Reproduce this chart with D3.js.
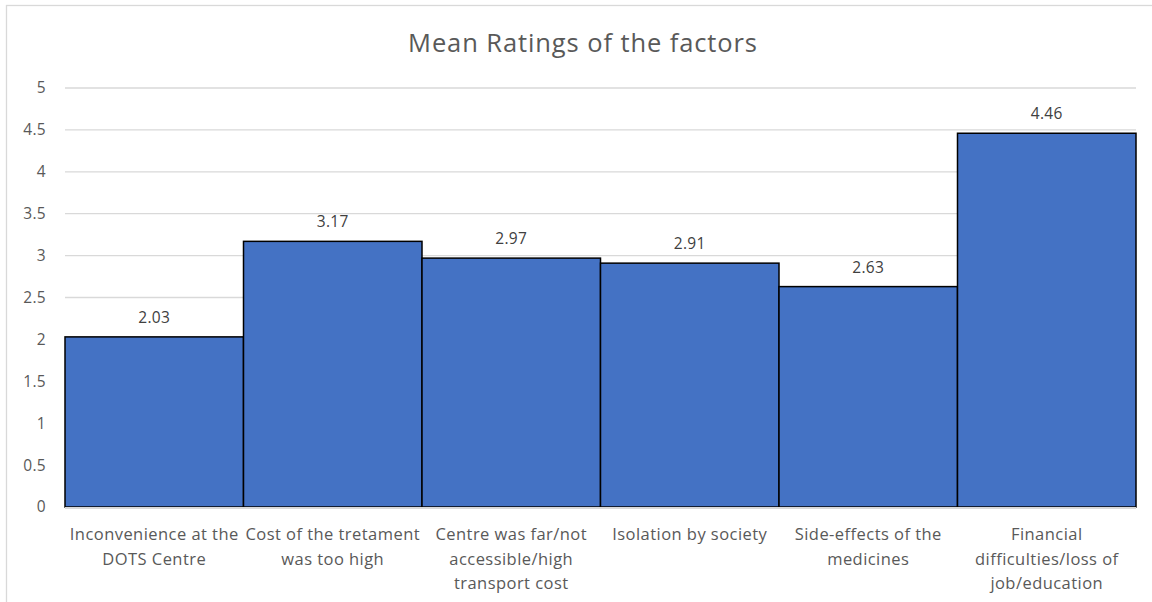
<!DOCTYPE html>
<html><head><meta charset="utf-8">
<script src="https://cdn.jsdelivr.net/npm/d3@7"></script>
<style>
html,body{margin:0;padding:0;background:#fff;}
svg{display:block;font-family:"Open Sans", sans-serif;}
</style></head>
<body>
<svg id="chart" width="1152" height="602"></svg>
<script>
const title = "Mean Ratings of the factors";
const categories = [
  "Inconvenience at the\nDOTS Centre",
  "Cost of the tretament\nwas too high",
  "Centre was far/not\naccessible/high\ntransport cost",
  "Isolation by society",
  "Side-effects of the\nmedicines",
  "Financial\ndifficulties/loss of\njob/education"
];
const values = [2.03, 3.17, 2.97, 2.91, 2.63, 4.46];
const yTicks = [0, 0.5, 1, 1.5, 2, 2.5, 3, 3.5, 4, 4.5, 5];

(function () {
const svg = d3.select("#chart");
const mLeft = 65, mRight = 1136, mTop = 88, mBottom = 507;
const FONT = "'Open Sans', sans-serif";

svg.append("rect").attr("x", 6.5).attr("y", 5.5).attr("width", 1160).attr("height", 620)
  .attr("fill", "#fff").attr("stroke", "#d9d9d9").attr("stroke-width", 1.3);

const x = d3.scaleBand().domain(d3.range(categories.length)).range([mLeft, mRight]).padding(0);
const y = d3.scaleLinear().domain([0, 5]).range([mBottom, mTop]);

// gridlines
svg.append("g").selectAll("line").data(yTicks).join("line")
  .attr("x1", mLeft).attr("x2", mRight)
  .attr("y1", d => y(d)).attr("y2", d => y(d))
  .attr("stroke", "#d9d9d9").attr("stroke-width", 1.3);

// y tick labels
const yAxis = d3.axisLeft(y).tickValues(yTicks).tickSize(0).tickPadding(0).tickFormat(d3.format("~g"));
const ga = svg.append("g").attr("transform", `translate(46,0)`).call(yAxis);
ga.select(".domain").remove();
ga.selectAll("text").attr("font-size", 15.5).attr("fill", "#595959").attr("font-family", FONT)
  .attr("letter-spacing", 0.3);

// bars
svg.append("g").selectAll("rect").data(values).join("rect")
  .attr("x", (d, i) => x(i))
  .attr("y", d => y(d))
  .attr("width", x.bandwidth())
  .attr("height", d => y(0) - y(d))
  .attr("fill", "#4472C4").attr("stroke", "#000").attr("stroke-width", 1.5);

// baseline
svg.append("line").attr("x1", mLeft).attr("x2", mRight).attr("y1", y(0) + 1).attr("y2", y(0) + 1)
  .attr("stroke", "#d9d9d9").attr("stroke-width", 2);

// value labels
svg.append("g").selectAll("text").data(values).join("text")
  .attr("x", (d, i) => x(i) + x.bandwidth() / 2)
  .attr("y", d => y(d) - 14)
  .attr("text-anchor", "middle").attr("font-size", 15.5).attr("fill", "#404040")
  .attr("letter-spacing", 0.3)
  .text(d => d.toFixed(2));

// category labels
const cg = svg.append("g");
categories.forEach((c, i) => {
  const t = cg.append("text").attr("text-anchor", "middle").attr("font-size", 16.5)
    .attr("fill", "#595959").attr("letter-spacing", 0.45);
  c.split("\n").forEach((line, j) => {
    t.append("tspan").attr("x", x(i) + x.bandwidth() / 2).attr("y", 540 + j * 24.5).text(line);
  });
});

// title
svg.append("text").attr("x", 583).attr("y", 52).attr("text-anchor", "middle")
  .attr("font-size", 25.5).attr("letter-spacing", 0.9).attr("fill", "#595959").text(title);
})();
</script>
</body></html>
